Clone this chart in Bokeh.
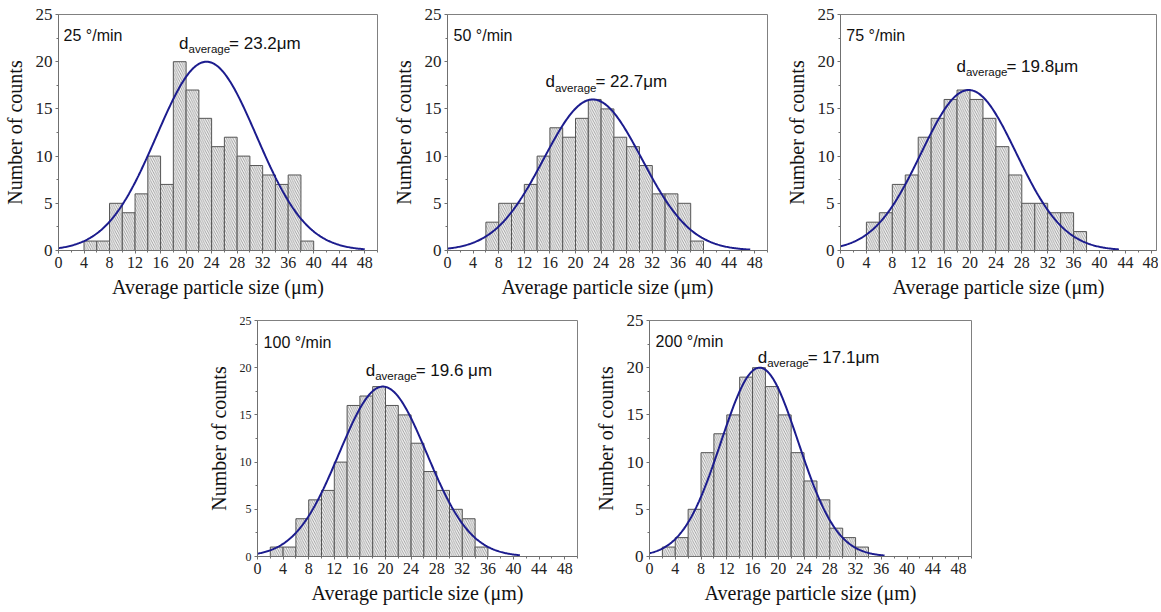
import numpy as np
from bokeh.plotting import figure
from bokeh.models import Label, Spacer, FixedTicker, Range1d
from bokeh.layouts import column, row
from bokeh.embed import file_html
from bokeh.resources import INLINE

# ---------------- data ----------------
rate_labels = ["25 \u00b0/min", "50 \u00b0/min", "75 \u00b0/min", "100 \u00b0/min", "200 \u00b0/min"]
davg_labels = ["= 23.2\u03bcm", "= 22.7\u03bcm", "= 19.8\u03bcm", "= 19.6 \u03bcm", "= 17.1\u03bcm"]

bin_width = 2
bins_25 = [4, 6, 8, 10, 12, 14, 16, 18, 20, 22, 24, 26, 28, 30, 32, 34, 36, 38]
counts_25 = [1, 1, 5, 4, 6, 10, 7, 20, 17, 14, 11, 12, 10, 9, 8, 7, 8, 1]

bins_50 = [6, 8, 10, 12, 14, 16, 18, 20, 22, 24, 26, 28, 30, 32, 34, 36, 38]
counts_50 = [3, 5, 5, 7, 10, 13, 12, 14, 16, 15, 12, 11, 9, 6, 6, 5, 1]

bins_75 = [4, 6, 8, 10, 12, 14, 16, 18, 20, 22, 24, 26, 28, 30, 32, 34, 36]
counts_75 = [3, 4, 7, 8, 12, 14, 16, 17, 16, 14, 11, 8, 5, 5, 4, 4, 2]

bins_100 = [2, 4, 6, 8, 10, 12, 14, 16, 18, 20, 22, 24, 26, 28, 30, 32, 34]
counts_100 = [1, 1, 4, 6, 7, 10, 16, 17, 18, 16, 15, 12, 9, 7, 5, 4, 1]

bins_200 = [2, 4, 6, 8, 10, 12, 14, 16, 18, 20, 22, 24, 26, 28, 30, 32]
counts_200 = [1, 2, 5, 11, 13, 15, 19, 20, 18, 15, 11, 8, 6, 3, 2, 1]

# Gaussian fit parameters (centre, peak height, width, end of drawn curve)
fit_centre = [23.2, 22.7, 19.8, 19.6, 17.1]
fit_peak = [20.0, 16.0, 17.0, 18.0, 20.0]
fit_sigma = [7.84, 7.67, 7.35, 6.85, 6.0]
fit_end = [48.0, 47.3, 43.0, 41.0, 36.5]

x_ticks = [0, 4, 8, 12, 16, 20, 24, 28, 32, 36, 40, 44, 48]
y_ticks = [0, 5, 10, 15, 20, 25]

all_bins = [bins_25, bins_50, bins_75, bins_100, bins_200]
all_counts = [counts_25, counts_50, counts_75, counts_100, counts_200]

# ---------------- layout / style ----------------
SERIF = "Liberation Serif"
SANS = "Liberation Sans"

panel_geo = [
    dict(L=57, FW=320, R=10, T=14, FH=238, B=54, xmax=50.0, yfs="17px"),
    dict(L=60, FW=320, R=11, T=14, FH=238, B=54, xmax=50.0, yfs="17px"),
    dict(L=62, FW=316, R=2, T=12, FH=238, B=56, xmax=48.8, yfs="17px"),
    dict(L=60, FW=320, R=10, T=13, FH=238, B=49, xmax=50.0, yfs="12px"),
    dict(L=62, FW=322, R=10, T=14, FH=238, B=48, xmax=50.0, yfs="17px"),
]
rate_pos = [(0.8, 22.8), (0.95, 22.8), (0.9, 22.8), (0.95, 22.7), (0.95, 22.8)]
davg_pos = [(18.9, 21.95), (15.3, 17.86), (17.9, 19.5), (16.9, 19.75), (16.8, 21.1)]


def make_panel(i):
    g = panel_geo[i]
    p = figure(width=g["L"] + g["FW"] + g["R"], height=g["T"] + g["FH"] + g["B"],
               output_backend="svg", toolbar_location=None,
               x_range=Range1d(0, g["xmax"]), y_range=Range1d(0, 25),
               min_border_left=g["L"], min_border_right=g["R"],
               min_border_top=g["T"], min_border_bottom=g["B"])
    p.grid.visible = False
    p.outline_line_color = "#808080"
    p.outline_line_width = 1
    p.background_fill_color = "white"
    p.border_fill_color = "white"

    lefts = np.array(all_bins[i], dtype=float)
    p.quad(left=lefts, right=lefts + bin_width, bottom=0, top=all_counts[i],
           fill_color="#f6f6f6", line_color="#555555", line_width=1,
           hatch_pattern="left_diagonal_line", hatch_color="#7a7a7a",
           hatch_scale=4.5, hatch_weight=0.7)

    xs = np.linspace(0, fit_end[i], 300)
    ys = fit_peak[i] * np.exp(-(xs - fit_centre[i]) ** 2 / (2 * fit_sigma[i] ** 2))
    p.line(xs, ys, line_color="#1c1c8e", line_width=2)

    for ax in (p.xaxis[0], p.yaxis[0]):
        ax.axis_line_color = "#707070"
        ax.major_tick_line_color = "#707070"
        ax.minor_tick_line_color = "#707070"
        ax.major_tick_out = 3
        ax.major_tick_in = 0
        ax.minor_tick_out = 2
        ax.minor_tick_in = 0
        ax.major_label_text_font = SERIF
        ax.major_label_text_color = "#222222"
        ax.axis_label_text_font = SERIF
        ax.axis_label_text_font_style = "normal"
        ax.axis_label_text_font_size = "20px"
        ax.axis_label_text_color = "#111111"

    p.xaxis[0].ticker = FixedTicker(ticks=x_ticks,
                                    minor_ticks=[t + 2 for t in x_ticks])
    p.yaxis[0].ticker = FixedTicker(ticks=y_ticks,
                                    minor_ticks=[t + 2.5 for t in y_ticks[:-1]])
    p.xaxis[0].major_label_text_font_size = "16px"
    p.yaxis[0].major_label_text_font_size = g["yfs"]
    p.xaxis[0].major_label_standoff = 3
    p.yaxis[0].major_label_standoff = 3
    p.xaxis[0].axis_label_standoff = 5
    p.yaxis[0].axis_label_standoff = 7
    p.xaxis[0].axis_label = "Average particle size (\u03bcm)"
    p.yaxis[0].axis_label = "Number of counts"

    rx, ry = rate_pos[i]
    p.add_layout(Label(x=rx, y=ry, text=rate_labels[i], text_font=SANS,
                       text_font_size="16px", text_color="#111111",
                       text_baseline="alphabetic", text_align="left"))
    dx, dy = davg_pos[i]
    p.add_layout(Label(x=dx, y=dy, text="d", text_font=SANS,
                       text_font_size="17px", text_color="#111111",
                       text_baseline="alphabetic", text_align="left"))
    p.add_layout(Label(x=dx, y=dy, x_offset=9.5, y_offset=-6, text="average",
                       text_font=SANS, text_font_size="11.5px", text_color="#111111",
                       text_baseline="alphabetic", text_align="left"))
    p.add_layout(Label(x=dx, y=dy, x_offset=50, text=davg_labels[i], text_font=SANS,
                       text_font_size="17px", text_color="#111111",
                       text_baseline="alphabetic", text_align="left"))
    return p


panels = [make_panel(i) for i in range(5)]
layout = column(row(panels[0], panels[1], panels[2]),
                row(Spacer(width=197, height=10), panels[3], panels[4]))

open("out.html", "w").write(file_html(layout, INLINE))
